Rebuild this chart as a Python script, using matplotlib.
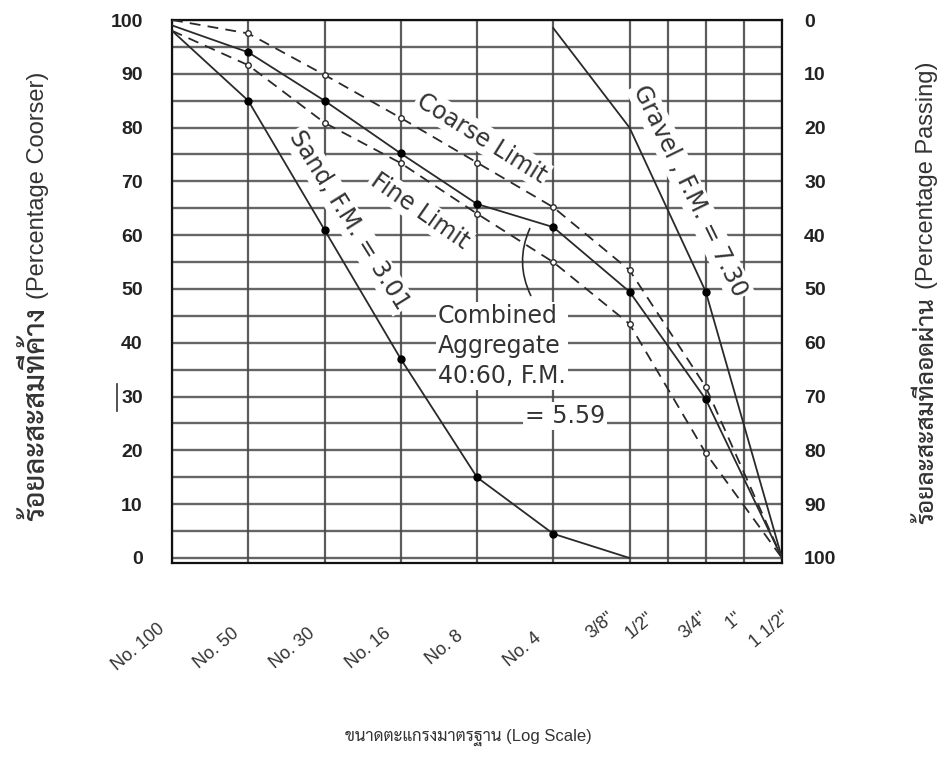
import numpy as np
import matplotlib
matplotlib.use("Agg")
import matplotlib.pyplot as plt
from matplotlib import transforms
from matplotlib.lines import Line2D

# ---------------- data ----------------
sieve_labels = ["No. 100", "No. 50", "No. 30", "No. 16", "No. 8", "No. 4",
                '3/8"', '1/2"', '3/4"', '1"', '1 1/2"']
sieve_mm = [0.15, 0.3, 0.6, 1.18, 2.36, 4.75, 9.5, 12.5, 19.0, 25.0, 37.5]

sand_mm = [0.15, 0.3, 0.6, 1.18, 2.36, 4.75, 9.5]
sand_pct = [98, 85, 61, 37, 15, 4.5, 0]

gravel_mm = [4.75, 9.5, 19.0, 37.5]
gravel_pct = [98.5, 80, 49.5, 0]

limit_mm = [0.15, 0.3, 0.6, 1.18, 2.36, 4.75, 9.5, 19.0, 37.5]
combined_pct = [99, 94, 85, 75.2, 65.8, 61.5, 49.5, 29.5, 0]
coarse_pct = [100, 97.5, 89.8, 81.8, 73.5, 65.2, 53.5, 31.8, 0]
fine_pct = [98, 91.6, 80.9, 73.4, 64, 55, 43.5, 19.5, 0]

y_ticks = list(range(0, 101, 10))

# ---------------- sieve scale (log spacing, 1/2" and 1" at mid-steps) ----------------
grid_pos = np.array([0, 1, 2, 3, 4, 5, 6, 6.5, 7, 7.5, 8], float)
lg = np.log2(np.array(sieve_mm))


def fwd(x):
    x = np.asarray(x, float)
    with np.errstate(divide="ignore", invalid="ignore"):
        l = np.log2(np.where(x > 0, x, np.nan))
    out = np.interp(l, lg, grid_pos)
    lo_s = (grid_pos[1] - grid_pos[0]) / (lg[1] - lg[0])
    hi_s = (grid_pos[-1] - grid_pos[-2]) / (lg[-1] - lg[-2])
    out = np.where(l < lg[0], grid_pos[0] + (l - lg[0]) * lo_s, out)
    out = np.where(l > lg[-1], grid_pos[-1] + (l - lg[-1]) * hi_s, out)
    return out


def inv(u):
    u = np.asarray(u, float)
    l = np.interp(u, grid_pos, lg)
    lo_s = (lg[1] - lg[0]) / (grid_pos[1] - grid_pos[0])
    hi_s = (lg[-1] - lg[-2]) / (grid_pos[-1] - grid_pos[-2])
    l = np.where(u < grid_pos[0], lg[0] + (u - grid_pos[0]) * lo_s, l)
    l = np.where(u > grid_pos[-1], lg[-1] + (u - grid_pos[-1]) * hi_s, l)
    return 2.0 ** l


THAI = ["Liberation Sans", "Sarabun", "Noto Sans Thai", "Athiti", "Anuphan", "DejaVu Sans"]
LINE = "#2a2a2a"
GRID = "#4a4a4a"
TXT = "#333333"

fig = plt.figure(figsize=(9.39, 7.67), dpi=100)
fig.patch.set_facecolor("white")
W, H = 939, 767
L, R, T, B = 172, 782, 20, 563
ax = fig.add_axes([L / W, 1 - B / H, (R - L) / W, (B - T) / H])

ax.set_xscale("function", functions=(fwd, inv))
ax.set_xlim(sieve_mm[0], sieve_mm[-1])
ax.set_ylim(-0.93, 100)

ax.set_xticks(sieve_mm)
ax.set_xticklabels([])
ax.xaxis.set_minor_locator(matplotlib.ticker.NullLocator())
ax.set_yticks(y_ticks)
ax.set_yticks(list(range(5, 100, 10)), minor=True)
ax.tick_params(axis="both", which="both", length=0)
ax.tick_params(axis="y", pad=21)
for lab in ax.get_yticklabels():
    lab.set_fontfamily("Liberation Sans")
    lab.set_fontweight("bold")
    lab.set_fontsize(14)
    lab.set_color("#222222")

ax.set_axisbelow(True)
ax.grid(True, which="both", axis="y", color=GRID, lw=1.7, alpha=0.85)
ax.grid(True, which="major", axis="x", color=GRID, lw=1.6, alpha=0.9)
for sp in ax.spines.values():
    sp.set_color("#111111")
    sp.set_linewidth(1.6)

# right axis (percentage passing)
sec = ax.secondary_yaxis("right", functions=(lambda y: 100 - y, lambda y: 100 - y))
sec.set_yticks(y_ticks)
sec.tick_params(axis="y", length=0, pad=16)
for lab in sec.get_yticklabels():
    lab.set_fontfamily("Liberation Sans")
    lab.set_fontweight("bold")
    lab.set_fontsize(14)
    lab.set_color("#222222")
sec.spines["right"].set_visible(False)

# ---------------- curves ----------------
ax.plot(sand_mm, sand_pct, color=LINE, lw=1.3, marker="o", ms=5, mfc="black",
        mec="black", markevery=[1, 2, 3, 4, 5], zorder=3)
ax.plot(gravel_mm, gravel_pct, color=LINE, lw=1.3, marker="o", ms=5, mfc="black",
        mec="black", markevery=[2], zorder=3)
ax.plot(limit_mm, combined_pct, color=LINE, lw=1.3, marker="o", ms=5, mfc="black",
        mec="black", markevery=[1, 2, 3, 4, 5, 6, 7], zorder=3)
ax.plot(limit_mm, coarse_pct, color=LINE, lw=1.3, ls=(0, (6, 4)), marker="o", ms=4,
        mfc="white", mec=LINE, mew=1.0, markevery=[1, 2, 3, 4, 5, 6, 7], zorder=3)
ax.plot(limit_mm, fine_pct, color=LINE, lw=1.3, ls=(0, (6, 4)), marker="o", ms=4,
        mfc="white", mec=LINE, mew=1.0, markevery=[1, 2, 3, 4, 5, 6, 7], zorder=3)

# ---------------- x tick labels ----------------
label_dx = [-34, -32, -32, -32, -32, -31, -29, -28, -12, -10, -12]
label_y = [647, 648, 648, 648, 648, 650, 625, 625, 625, 620, 630]
for x, t, dx, py in zip(sieve_mm, sieve_labels, label_dx, label_y):
    tr = transforms.offset_copy(transforms.blended_transform_factory(ax.transData, fig.transFigure),
                                fig=fig, x=dx, y=0, units="dots")
    ax.text(x, 1 - py / H, t, transform=tr, rotation=40, rotation_mode="anchor",
            ha="center", va="center", fontsize=13, family="Liberation Sans",
            color=TXT, clip_on=False)

# ---------------- annotations ----------------
ann = dict(fontsize=17, family="DejaVu Sans", color=TXT, rotation_mode="anchor",
           ha="center", va="center", transform=ax.transAxes, zorder=2,
           bbox=dict(facecolor="white", edgecolor="none", pad=1.5))


def fx(px):
    return (px - L) / (R - L)


def fy(py):
    return (B - py) / (B - T)


ax.text(fx(482), fy(138), "Coarse Limit", rotation=-32, **ann)
ax.text(fx(420), fy(211), "Fine Limit", rotation=-35, **ann)
ax.text(fx(349), fy(220), "Sand, F.M. = 3.01", rotation=-58, **ann)
ax.text(fx(690), fy(191), "Gravel , F.M. = 7.30", rotation=-64, **ann)

ann2 = dict(ann)
ann2.update(ha="left", rotation_mode="default")
ax.text(fx(438), fy(346), "Combined\nAggregate\n40:60, F.M.", linespacing=1.3,
        multialignment="left", **ann2)
ax.text(fx(525), fy(416), "= 5.59", **ann2)

ax.annotate("", xy=(fx(531), fy(226)), xytext=(fx(532), fy(298)),
            xycoords="axes fraction", textcoords="axes fraction",
            arrowprops=dict(arrowstyle="-", color=LINE, lw=1.2,
                            connectionstyle="arc3,rad=-0.25"), zorder=3)

# ---------------- axis titles ----------------
# left: Thai part reads downward from the split point, English part upward
fig.text(44 / W, 1 - 299 / H, "(Percentage Coorser)", rotation=90, rotation_mode="anchor",
         ha="left", va="baseline", fontsize=17, family="Liberation Sans", color=TXT)
fig.text(44 / W, 1 - 307 / H, "ร้อยละสะสมที่ค้าง", rotation=90, rotation_mode="anchor",
         ha="right", va="baseline", fontsize=21, weight="medium", family=THAI, color=TXT)
# right
fig.text(933 / W, 1 - 289 / H, "(Percentage Passing)", rotation=90, rotation_mode="anchor",
         ha="left", va="baseline", fontsize=17, family="Liberation Sans", color=TXT)
fig.text(933 / W, 1 - 297 / H, "ร้อยละสะสมที่ลอดผ่าน", rotation=90, rotation_mode="anchor",
         ha="right", va="baseline", fontsize=17.5, weight="medium", family=THAI, color=TXT)
# bottom
fig.text(468 / W, 1 - 737 / H, "ขนาดตะแกรงมาตรฐาน (Log Scale)",
         ha="center", va="center", fontsize=12, family=THAI, color=TXT)

# small scan mark next to the "30" label
fig.add_artist(Line2D([117 / W, 117 / W], [1 - 384 / H, 1 - 411 / H],
                      transform=fig.transFigure, color=TXT, lw=1.2))

fig.savefig("out.png", dpi=100, facecolor="white")
